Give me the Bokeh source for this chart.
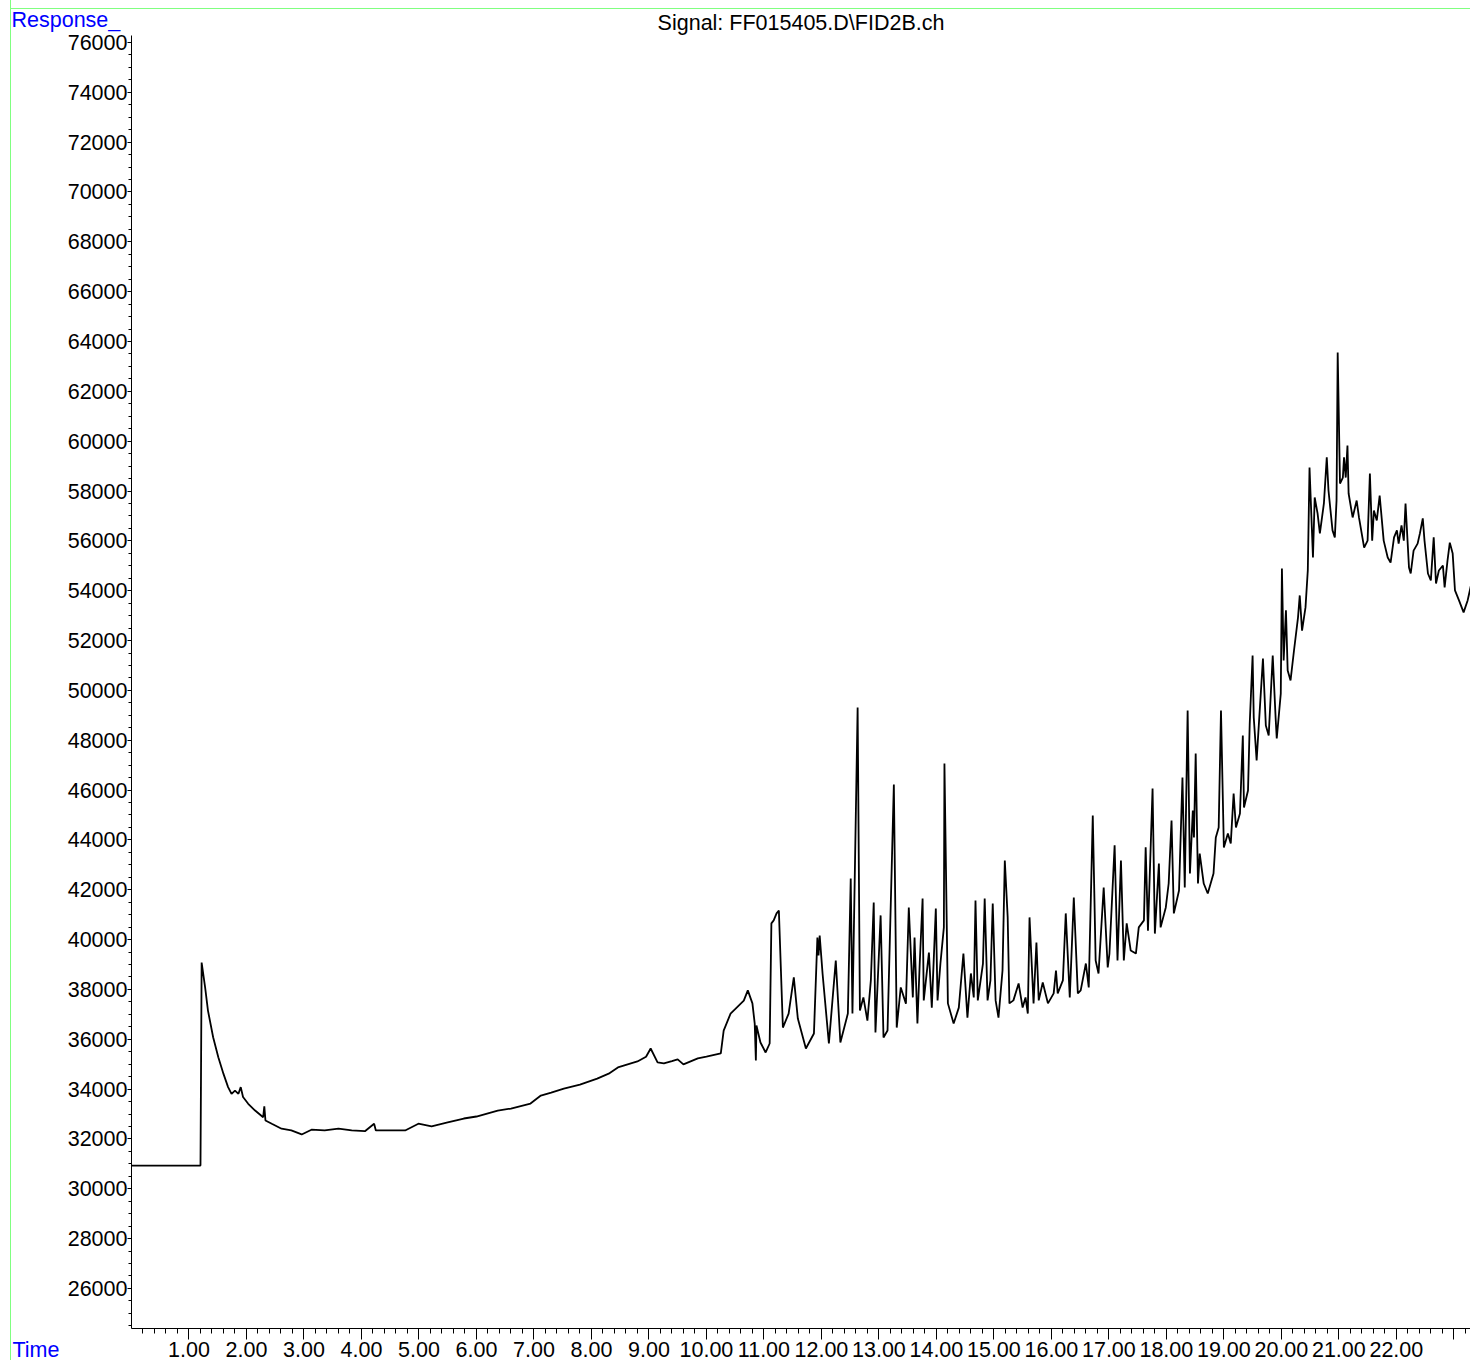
from bokeh.plotting import figure
from bokeh.models import Range1d, FixedTicker, PrintfTickFormatter, BasicTickFormatter, Title
from bokeh.embed import file_html
from bokeh.resources import INLINE

title_text = "Signal: FF015405.D\\FID2B.ch"
y_axis_name = "Response_"
x_axis_name = "Time"

time_min = [
    0.00, 1.20, 1.22, 1.28, 1.33, 1.42, 1.51, 1.60, 1.68, 1.74, 1.80, 1.86, 1.90, 1.94, 2.03, 2.15,
    2.29, 2.31, 2.33, 2.44, 2.61, 2.78, 2.96, 3.13, 3.36, 3.60, 3.83, 4.06, 4.22, 4.25, 4.52, 4.76,
    4.99, 5.22, 5.50, 5.78, 6.00, 6.37, 6.60, 6.94, 7.12, 7.30, 7.52, 7.80, 8.10, 8.30, 8.46, 8.80,
    8.95, 9.03, 9.15, 9.26, 9.40, 9.50, 9.60, 9.85, 10.00,
    10.25, 10.30, 10.42, 10.65, 10.72, 10.80, 10.84, 10.86, 10.87, 10.94, 11.03, 11.10, 11.13, 11.17,
    11.22, 11.26, 11.33, 11.43, 11.52, 11.59, 11.73, 11.87, 11.93, 11.95, 11.97, 12.02, 12.13, 12.25,
    12.33, 12.46, 12.51, 12.54, 12.63, 12.67, 12.73, 12.80, 12.86, 12.91, 12.94, 13.03, 13.08, 13.15,
    13.26, 13.31, 13.38, 13.47, 13.52, 13.59, 13.62, 13.67, 13.71, 13.76, 13.78, 13.87, 13.92, 13.99,
    14.02, 14.07, 14.13, 14.14, 14.20, 14.30, 14.39, 14.47, 14.54, 14.60, 14.65, 14.68, 14.72, 14.81,
    14.84, 14.89, 14.94, 14.98, 15.03, 15.08, 15.15, 15.19, 15.24, 15.27, 15.34, 15.43, 15.50, 15.55,
    15.59, 15.62, 15.69, 15.74, 15.78, 15.85, 15.94, 16.04, 16.08, 16.11, 16.20, 16.25, 16.32, 16.39,
    16.46, 16.51, 16.60, 16.65, 16.72, 16.77, 16.82, 16.91, 16.98, 17.01, 17.10, 17.15, 17.21, 17.26,
    17.31, 17.38, 17.47, 17.52, 17.61, 17.64, 17.68, 17.76, 17.80, 17.87, 17.90, 17.99, 18.04, 18.09,
    18.13, 18.22, 18.28, 18.32, 18.37, 18.41, 18.46, 18.48, 18.51, 18.55, 18.58, 18.65, 18.72, 18.82,
    18.86, 18.91, 18.95, 19.00, 19.07, 19.12, 19.17, 19.21, 19.28, 19.33, 19.35, 19.42, 19.45, 19.50,
    19.52, 19.57, 19.68, 19.73, 19.78, 19.85, 19.90, 19.92, 19.99, 20.01, 20.04, 20.08, 20.11, 20.16,
    20.22, 20.29, 20.32, 20.36, 20.42, 20.46, 20.49, 20.55, 20.58, 20.63, 20.67, 20.74, 20.79, 20.82,
    20.89, 20.93, 20.96, 20.98, 21.02, 21.07, 21.09, 21.12, 21.15, 21.17, 21.24, 21.31, 21.35, 21.44,
    21.50, 21.54, 21.58, 21.61, 21.66, 21.71, 21.78, 21.85, 21.90, 21.96, 22.01, 22.04, 22.09, 22.13,
    22.16, 22.22, 22.25, 22.30, 22.37, 22.41, 22.46, 22.49, 22.55, 22.60, 22.65, 22.69, 22.74, 22.81,
    22.84, 22.89, 22.93, 22.98, 23.02, 23.09, 23.17, 23.24, 23.29, 23.34,
]

response = [
    30930, 30930, 39080, 38090, 37150, 36080, 35280, 34610, 34080, 33810, 33940, 33810, 34080, 33680, 33410, 33140,
    32870, 33310, 32740, 32610, 32410, 32340, 32180, 32370, 32340, 32410, 32340, 32310, 32610, 32340, 32340, 32340,
    32610, 32500, 32660, 32820, 32900, 33140, 33220, 33420, 33740, 33860, 34020, 34180, 34420, 34620, 34870, 35110,
    35300, 35630, 35070, 35030, 35120, 35190, 34990, 35230, 35300,
    35430, 36350, 37030, 37550, 37960, 37440, 36630, 35150, 36550, 35870, 35470, 35830, 40650, 40770,
    41050, 41170, 36470, 37030, 38480, 36830, 35630, 36230, 40080, 39360, 40160, 38640, 35830, 39160,
    35870, 37030, 42450, 37030, 49310, 37150, 37680, 36750, 38360, 41490, 36270, 40970, 36070, 36350,
    46220, 36470, 38080, 37430, 41290, 37680, 40080, 36630, 39040, 41650, 37560, 39480, 37270, 41250,
    37560, 39040, 40490, 47070, 37440, 36630, 37270, 39440, 36870, 38640, 37680, 41570, 37560, 39040,
    41650, 37560, 38360, 41450, 37560, 36870, 38760, 43170, 40890, 37440, 37560, 38240, 37270, 37680,
    37030, 40890, 37440, 39880, 37560, 38280, 37440, 37840, 38760, 37840, 38360, 41050, 37680, 41690,
    37840, 37960, 39040, 38080, 44980, 39160, 38640, 42090, 38880, 39440, 43780, 39160, 43170, 39160,
    40650, 39560, 39440, 40490, 40770, 43700, 40360, 46060, 40240, 43050, 40490, 41290, 42250, 44780,
    41050, 41970, 46500, 42090, 49190, 42650, 45180, 44100, 47470, 42250, 43450, 42250, 41850, 42650,
    44100, 44500, 49190, 43700, 44260, 43860, 45860, 44500, 45060, 48190, 45300, 45980, 48670, 51400,
    48910, 47190, 51280, 48590, 48190, 51400, 48910, 48070, 49870, 54890, 51200, 53210, 50800, 50400,
    51600, 52930, 53810, 52400, 53330, 54810, 58940, 55330, 57740, 57100, 56300, 57500, 59350, 58020,
    56420, 56140, 57620, 63560, 58300, 58540, 59350, 58540, 59830, 57900, 56940, 57620, 56940, 55730,
    56010, 58700, 56010, 57220, 56820, 57820, 56010, 55330, 55130, 56140, 56420, 55890, 56620, 56010,
    57500, 54930, 54690, 55610, 55890, 56300, 56900, 56010, 54690, 54410, 56140, 54290, 54810, 55010,
    54130, 55210, 55930, 55490, 54010, 53610, 53130, 53610, 54130, 54690,
]

x_major_ticks = [1, 2, 3, 4, 5, 6, 7, 8, 9, 10, 11, 12, 13, 14, 15, 16, 17, 18, 19, 20, 21, 22, 23]
x_hidden_labels = {23: ""}
x_minor_ticks = [round(0.2 * i, 1) for i in range(1, 117)]
y_major_ticks = list(range(26000, 76001, 2000))
y_minor_ticks = list(range(24500, 76300, 500))

FONT = "Liberation Sans"
FS = "21.5px"

p = figure(width=1470, height=1360, output_backend="svg", toolbar_location=None,
           x_range=Range1d(0, 23.29), y_range=Range1d(24393, 76280),
           min_border_left=131, min_border_right=0, min_border_top=35, min_border_bottom=32)

p.title.text = title_text
p.title.align = "center"
p.title.text_font = FONT
p.title.text_font_size = FS
p.title.text_font_style = "normal"
p.title.text_color = "#000000"
p.title.standoff = 2

p.add_layout(Title(text=y_axis_name, align="left", vertical_align="top", offset=-120, standoff=-56,
                   text_font=FONT, text_font_size=FS, text_font_style="normal",
                   text_color="#0000ff"), "above")
p.add_layout(Title(text=x_axis_name, align="left", vertical_align="top", offset=-119, standoff=-44,
                   text_font=FONT, text_font_size=FS, text_font_style="normal",
                   text_color="#0000ff"), "below")

p.line(time_min, response, line_color="black", line_width=1.8)

p.xgrid.visible = False
p.ygrid.visible = False
p.outline_line_color = None
p.background_fill_color = "white"
p.border_fill_color = None

xa = p.xaxis[0]
xa.ticker = FixedTicker(ticks=x_major_ticks, minor_ticks=x_minor_ticks)
xa.formatter = PrintfTickFormatter(format="%.2f")
xa.major_label_overrides = x_hidden_labels
xa.major_label_text_font = FONT
xa.major_label_text_font_size = FS
xa.major_label_text_color = "black"
xa.major_tick_out = 11
xa.major_tick_in = 0
xa.minor_tick_out = 5
xa.minor_tick_in = 0
xa.major_label_standoff = 2
xa.axis_line_color = "black"
xa.major_tick_line_color = "black"
xa.minor_tick_line_color = "black"

ya = p.yaxis[0]
ya.ticker = FixedTicker(ticks=y_major_ticks, minor_ticks=y_minor_ticks)
ya.formatter = BasicTickFormatter(use_scientific=False)
ya.major_label_text_font = FONT
ya.major_label_text_font_size = FS
ya.major_label_text_color = "black"
ya.major_tick_out = 4
ya.major_tick_in = 0
ya.minor_tick_out = 3
ya.minor_tick_in = 0
ya.major_label_standoff = 0
ya.axis_line_color = "black"
ya.major_tick_line_color = "black"
ya.minor_tick_line_color = "black"

p.styles = {
    "background": "linear-gradient(to right, #ffffff 0px, #ffffff 10px, #80ff80 10px, #80ff80 11px, transparent 11px), "
                  "linear-gradient(to bottom, #ffffff 0px, #ffffff 8px, #80ff80 8px, #80ff80 9px, #ffffff 9px)"
}

open("out.html", "w").write(file_html(p, INLINE))
